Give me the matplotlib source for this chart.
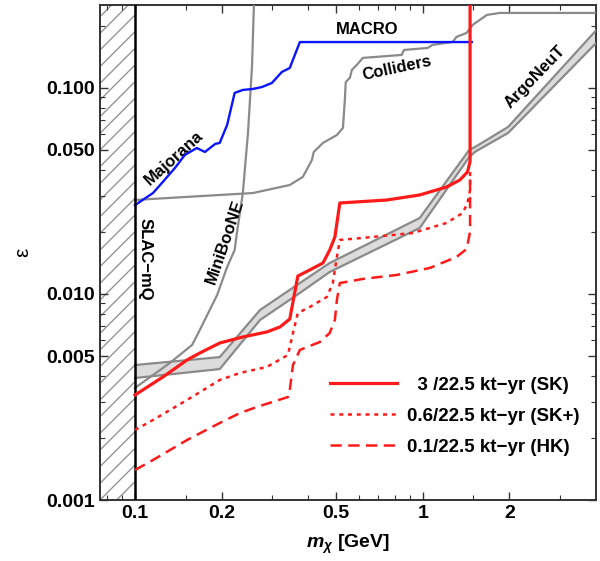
import numpy as np
import matplotlib
matplotlib.use("Agg")
import matplotlib.pyplot as plt

plt.rcParams['font.family'] = ['Liberation Sans', 'DejaVu Sans']
plt.rcParams['font.weight'] = 'bold'
plt.rcParams['axes.labelweight'] = 'bold'
plt.rcParams['mathtext.fontset'] = 'custom'
plt.rcParams['mathtext.it'] = 'Liberation Sans:bold:italic'
plt.rcParams['mathtext.rm'] = 'Liberation Sans:bold'
plt.rcParams['hatch.color'] = '#8c8c8c'
plt.rcParams['hatch.linewidth'] = 0.9

# Majorana + MACRO bound
majorana_m = [0.1, 0.1155, 0.125, 0.1377, 0.149, 0.164, 0.175, 0.19, 0.197, 0.209,
              0.222, 0.237, 0.257, 0.276, 0.299, 0.324, 0.345, 0.374, 1.48]
majorana_eps = [0.0270, 0.0309, 0.0350, 0.0409, 0.0473, 0.0511, 0.0489, 0.0535, 0.0541, 0.0661,
                0.0946, 0.0978, 0.0989, 0.1010, 0.1057, 0.1196, 0.125, 0.167, 0.167]

# collider bound
coll_m = [0.1, 0.257, 0.345, 0.383, 0.412, 0.418, 0.450, 0.503, 0.528, 0.536, 0.54, 0.558,
          0.567, 0.590, 0.619, 0.845, 0.86, 1.04, 1.08, 1.27, 1.31, 1.42, 1.49, 1.67, 1.85, 4.2]
coll_eps = [0.0286, 0.0309, 0.0338, 0.0370, 0.0447, 0.0489, 0.0541, 0.0591, 0.0640, 0.0874,
            0.1069, 0.1119, 0.1223, 0.1294, 0.1399, 0.1446, 0.1529, 0.1564, 0.1617, 0.1672,
            0.1769, 0.1849, 0.2022, 0.2261, 0.2312, 0.2312]

# MiniBooNE bound
mb_m = [0.1, 0.132, 0.158, 0.168, 0.193, 0.209, 0.222, 0.226, 0.237, 0.247, 0.255, 0.259, 0.262]
mb_eps = [0.00350, 0.00462, 0.00566, 0.00669, 0.00989, 0.01352, 0.01635, 0.01977, 0.0309,
          0.0605, 0.1265, 0.253, 0.4]

# ArgoNeuT band edges
argo_m = [0.1, 0.197, 0.272, 0.374, 0.475, 0.976, 1.45, 1.52, 1.98, 4.2]
argo_hi = [0.00452, 0.00494, 0.00836, 0.01130, 0.01414, 0.02338, 0.0500, 0.0517, 0.0647, 0.205]
argo_lo = [0.00391, 0.00432, 0.00748, 0.01011, 0.01279, 0.02091, 0.0462, 0.0490, 0.0605, 0.177]

# projected sensitivity, 3/22.5 kt-yr (SK)
sk_m = [0.1, 0.125, 0.1516, 0.168, 0.197, 0.237, 0.287, 0.319, 0.345, 0.368, 0.405, 0.450,
        0.475, 0.495, 0.515, 0.75, 0.976, 1.21, 1.345, 1.43, 1.46, 1.46]
sk_eps = [0.003234, 0.003954, 0.004781, 0.005171, 0.005781, 0.006185, 0.006541, 0.006915,
          0.007560, 0.01222, 0.01308, 0.01414, 0.01635, 0.01891, 0.02765, 0.02858, 0.03024,
          0.03306, 0.03575, 0.03910, 0.0440, 0.4]

# 0.6/22.5 kt-yr (SK+)
skp_m = [0.1, 0.1155, 0.1516, 0.197, 0.2315, 0.287, 0.340, 0.354, 0.368, 0.405, 0.464, 0.487,
         0.503, 0.515, 0.619, 0.923, 1.21, 1.377, 1.43, 1.46, 1.46]
skp_eps = [0.002187, 0.002446, 0.003058, 0.003824, 0.004136, 0.004422, 0.005057, 0.006468,
           0.008087, 0.008649, 0.009670, 0.01131, 0.01512, 0.01829, 0.01871, 0.01977, 0.02212,
           0.02473, 0.02765, 0.0320, 0.039]

# 0.1/22.5 kt-yr (HK)
hk_m = [0.1, 0.1155, 0.1516, 0.197, 0.2315, 0.265, 0.340, 0.345, 0.354, 0.374, 0.439, 0.475,
        0.495, 0.503, 0.515, 0.619, 0.812, 1.057, 1.31, 1.42, 1.46, 1.46]
hk_eps = [0.001398, 0.001564, 0.001955, 0.002365, 0.002644, 0.002828, 0.003162, 0.00342,
          0.00452, 0.00535, 0.00585, 0.006468, 0.00748, 0.00935, 0.0113, 0.01183, 0.01237,
          0.01337, 0.01512, 0.01653, 0.0200, 0.039]

legend_labels = ['  3 /22.5 kt\u2212yr (SK)', '0.6/22.5 kt\u2212yr (SK+)', '0.1/22.5 kt\u2212yr (HK)']

x_major = [0.1, 0.2, 0.5, 1, 2]
x_minor = [0.08, 0.09, 0.15, 0.3, 0.4, 0.6, 0.7, 0.8, 0.9, 1.5, 3]
y_major = [0.001, 0.005, 0.010, 0.050, 0.100]
y_labels = ['0.001', '0.005', '0.010', '0.050', '0.100']

x_lim = (0.0756, 4.0)
y_lim = (0.001, 0.253)
slac_edge = 0.1

fig = plt.figure(figsize=(6.0, 5.61), dpi=100)
ax = fig.add_axes([0.1667, 0.1087, 0.8267, 0.8826])
ax.set_xscale('log')
ax.set_yscale('log')
ax.set_xlim(*x_lim)
ax.set_ylim(*y_lim)

gray = '#8a8a8a'
red = '#ff1a1a'

# SLAC-mQ excluded region
ax.fill_betweenx([1e-4, 1.0], x_lim[0] * 0.9, slac_edge, facecolor='white',
                 edgecolor='#8c8c8c', hatch='//', linewidth=0, zorder=1)
ax.axvline(slac_edge, color='black', lw=1.8, zorder=5)

# ArgoNeuT band
ax.fill_between(argo_m, argo_lo, argo_hi, color='#dcdcdc', lw=0, zorder=2)
ax.plot(argo_m, argo_hi, color=gray, lw=1.6, zorder=3)
ax.plot(argo_m, argo_lo, color=gray, lw=1.6, zorder=3)

ax.plot(mb_m, mb_eps, color=gray, lw=1.6, zorder=3)
ax.plot(coll_m, coll_eps, color=gray, lw=1.6, zorder=3)
ax.plot(majorana_m, majorana_eps, color='#0a14ff', lw=1.7, zorder=4)

l1, = ax.plot(sk_m, sk_eps, color=red, lw=2.3, zorder=6)
l2, = ax.plot(skp_m, skp_eps, color=red, lw=1.8, dashes=(1.6, 1.9), zorder=6)
l3, = ax.plot(hk_m, hk_eps, color=red, lw=1.8, dashes=(4.5, 2.6), zorder=6)

ax.legend([l1, l2, l3], legend_labels, loc='lower right', bbox_to_anchor=(1.0, 0.055),
          frameon=False, fontsize=13.5, handlelength=3.6, handletextpad=0.5,
          labelspacing=0.75)

# curve labels
ax.text(0.64, 0.193, 'MACRO', fontsize=12, ha='center', va='center')
ax.text(0.81, 0.124, 'Colliders', fontsize=12, ha='center', va='center', rotation=12)
ax.text(2.45, 0.113, 'ArgoNeuT', fontsize=12, ha='center', va='center', rotation=46)
ax.text(0.137, 0.0457, 'Majorana', fontsize=12, ha='center', va='center', rotation=42)
ax.text(0.205, 0.0179, 'MiniBooNE', fontsize=12, ha='center', va='center', rotation=71)
ax.text(0.1085, 0.0148, 'SLAC\u2212mQ', fontsize=12, ha='center', va='center', rotation=-90)

ax.set_xticks(x_major)
ax.set_xticklabels(['0.1', '0.2', '0.5', '1', '2'])
ax.set_xticks(x_minor, minor=True)
ax.set_xticklabels([], minor=True)
ax.set_yticks(y_major)
ax.set_yticklabels(y_labels)

ax.tick_params(which='both', direction='in', top=True, right=True, labelsize=14,
               color='#333333')
ax.tick_params(which='major', length=6, width=1)
ax.tick_params(which='minor', length=3.5, width=0.8)
for s in ax.spines.values():
    s.set_linewidth(1.4)
    s.set_color('#333333')

ax.set_xlabel(r'$m_\chi$ [GeV]', fontsize=14, labelpad=8)
ax.set_ylabel('\u03b5', fontsize=15, fontweight='normal', rotation=90, labelpad=10)

fig.savefig('out.png', dpi=100)
